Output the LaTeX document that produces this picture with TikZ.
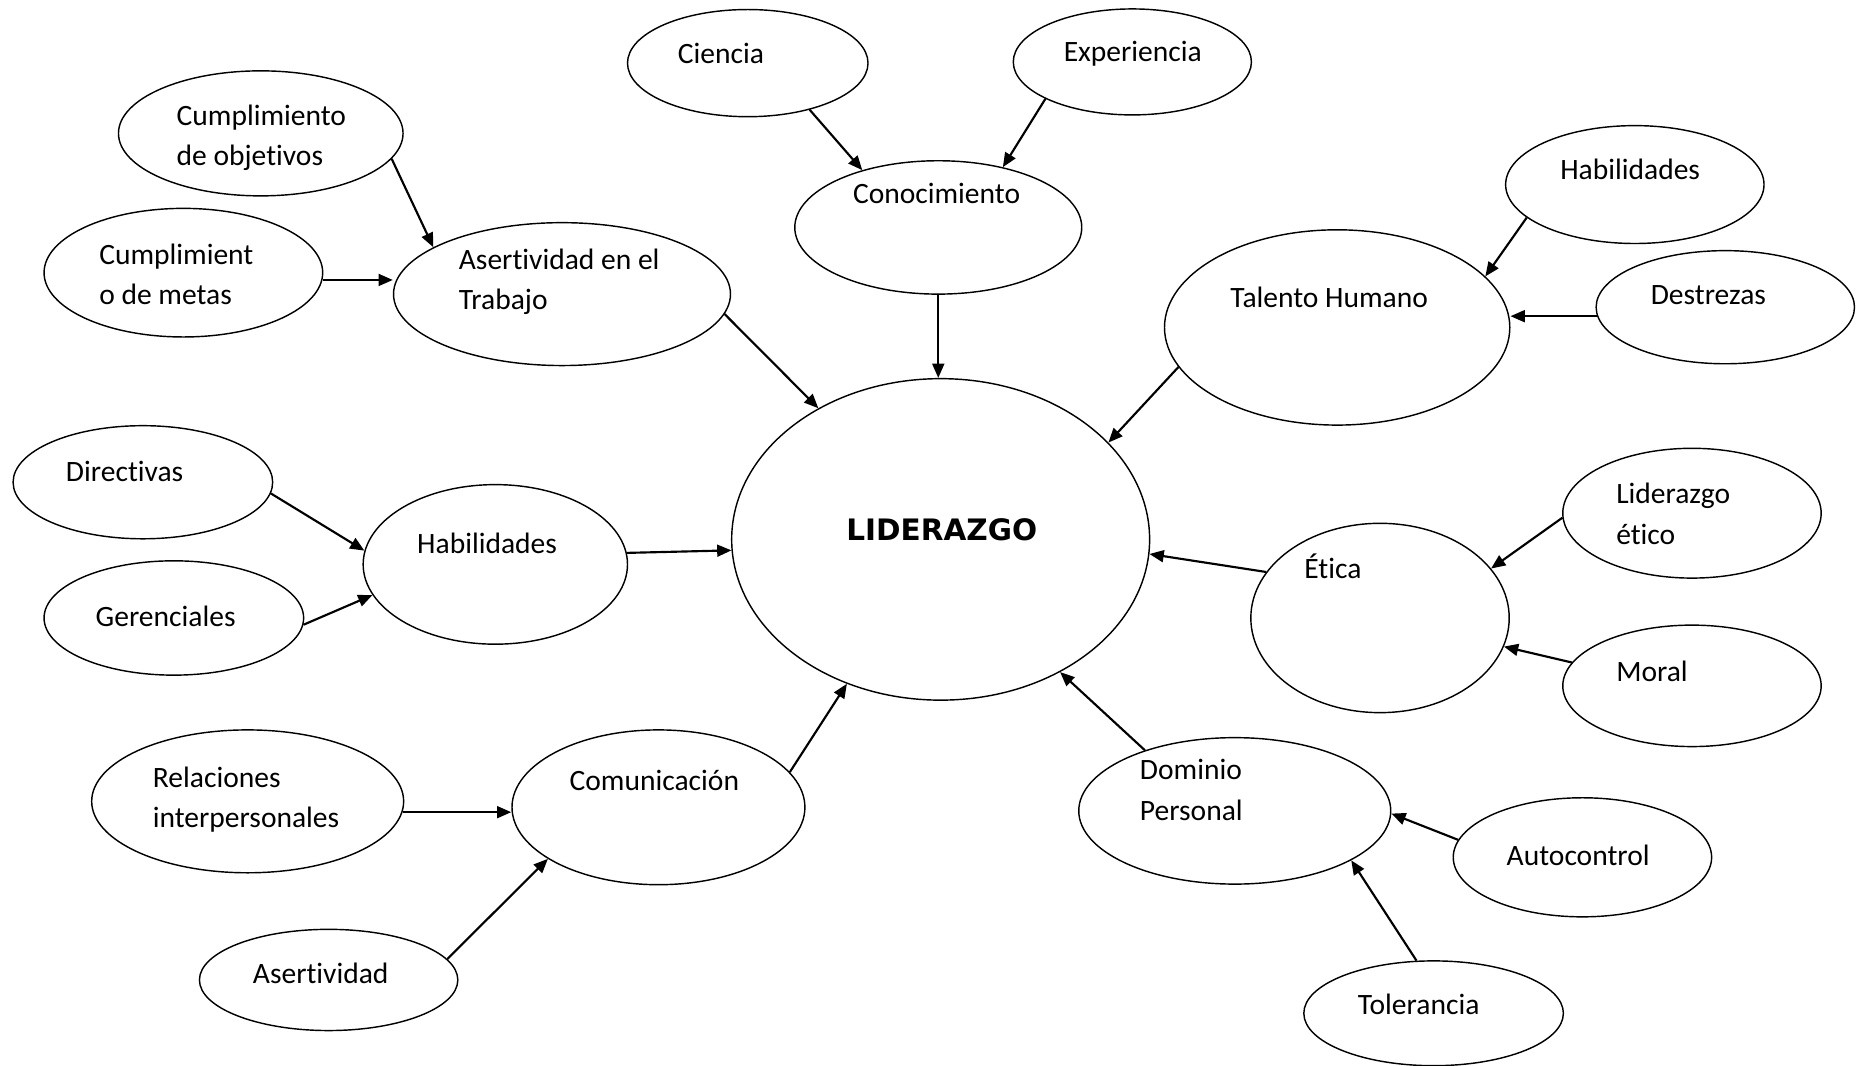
\documentclass[tikz,border=0pt]{standalone}
\usepackage{fontspec}
\setmainfont{Carlito}[Ligatures={NoCommon,NoContextual}]
\newfontfamily\heavyfont{DejaVu Sans}
\usetikzlibrary{shapes.geometric, arrows.meta}

\begin{document}
\begin{tikzpicture}[x=0.5pt, y=-0.5pt,
  bub/.style={draw, ellipse, line width=0.6pt, inner sep=0pt},
  lbl/.style={anchor=base west, inner sep=0pt, align=left, font=\fontsize{12.4}{17}\selectfont},
  arr/.style={-{Triangle[length=6pt, width=5pt]}, line width=0.9pt},
]
  \useasboundingbox (0,0) rectangle (1568,895);

  % ellipses
  \node[bub, minimum width=101pt, minimum height=45pt] (ciencia) at (628,53) {};
  \node[bub, minimum width=100pt, minimum height=44.5pt] (exper) at (951,52) {};
  \node[bub, minimum width=120.5pt, minimum height=56pt] (conoc) at (788,191) {};
  \node[bub, minimum width=119.5pt, minimum height=52.5pt] (cumpobj) at (219,112) {};
  \node[bub, minimum width=117pt, minimum height=54pt] (cumpmet) at (154,229) {};
  \node[bub, minimum width=141.5pt, minimum height=60pt] (asert) at (472,247) {};
  \node[bub, minimum width=108.5pt, minimum height=49.5pt] (habtal) at (1373,155) {};
  \node[bub, minimum width=145pt, minimum height=82pt] (talento) at (1123,275) {};
  \node[bub, minimum width=108.5pt, minimum height=47.5pt] (destr) at (1449,258) {};
  \node[bub, minimum width=175.5pt, minimum height=135pt] (lid) at (790,453) {};
  \node[bub, minimum width=109pt, minimum height=47.5pt] (direct) at (120,405) {};
  \node[bub, minimum width=111pt, minimum height=67pt] (habil) at (416,474) {};
  \node[bub, minimum width=109pt, minimum height=48pt] (geren) at (146,519) {};
  \node[bub, minimum width=108.5pt, minimum height=54.5pt] (lidet) at (1421,431) {};
  \node[bub, minimum width=108.5pt, minimum height=79.5pt] (etica) at (1159,519) {};
  \node[bub, minimum width=108.5pt, minimum height=51pt] (moral) at (1421,576) {};
  \node[bub, minimum width=131pt, minimum height=60pt] (relac) at (208,673) {};
  \node[bub, minimum width=123pt, minimum height=65pt] (comun) at (553,678) {};
  \node[bub, minimum width=108.5pt, minimum height=42.5pt] (asertv) at (276,823) {};
  \node[bub, minimum width=131pt, minimum height=61.5pt] (domin) at (1037,681) {};
  \node[bub, minimum width=108.5pt, minimum height=50pt] (autoc) at (1329,720) {};
  \node[bub, minimum width=109pt, minimum height=44pt] (toler) at (1204,851) {};

  % texts
  \node[lbl] (t-ciencia) at (569,53) {Ciencia};
  \node[lbl] (t-exper) at (893,52) {Experiencia};
  \node[lbl] (t-conoc) at (716,171) {Conocimiento};
  \node[lbl] (t-cumpobj) at (148,139) {Cumplimiento\\de objetivos};
  \node[lbl] (t-cumpmet) at (83,256) {Cumplimient\\o de metas};
  \node[lbl] (t-asert) at (385,260) {Asertividad en el\\Trabajo};
  \node[lbl] (t-habtal) at (1310,151) {Habilidades};
  \node[lbl] (t-talento) at (1033,258) {Talento Humano};
  \node[lbl] (t-destr) at (1386,256) {Destrezas};
  \node[font=\heavyfont\bfseries\fontsize{12.4}{15}\selectfont] (t-lid) at (791,445) {LIDERAZGO};
  \node[lbl] (t-direct) at (55,404) {Directivas};
  \node[lbl] (t-habil) at (350,465) {Habilidades};
  \node[lbl] (t-geren) at (80,526) {Gerenciales};
  \node[lbl] (t-lidet) at (1357,457) {Liderazgo\\ético};
  \node[lbl] (t-etica) at (1095,486) {Ética};
  \node[lbl] (t-moral) at (1357,572) {Moral};
  \node[lbl] (t-relac) at (128,695) {Relaciones\\interpersonales};
  \node[lbl] (t-comun) at (478,664) {Comunicación};
  \node[lbl] (t-asertv) at (212,826) {Asertividad};
  \node[lbl] (t-domin) at (957,689) {Dominio\\Personal};
  \node[lbl] (t-autoc) at (1265,727) {Autocontrol};
  \node[lbl] (t-toler) at (1140,852) {Tolerancia};

  % arrows
  \draw[arr] (ciencia.-37) -- (conoc.143);
  \draw[arr] (exper.203) -- (conoc.43);
  \draw[arr] (conoc.south) -- (conoc.south |- lid.north);
  \draw[arr] (cumpobj.-11) -- (asert.160);
  \draw[arr] (cumpmet.-3) -- (cumpmet.-3 -| asert.west);
  \draw[arr] (asert.-7) -- (lid.133);
  \draw[arr] (habtal.197) -- (talento.19);
  \draw[arr] (destr.184) -- (destr.184 -| talento.east);
  \draw[arr] (talento.194) -- (lid.30);
  \draw[arr] (direct.-5) -- (habil.174);
  \draw[arr] (geren.-3) -- (habil.194);
  \draw[arr] (habil.5) -- (lid.183);
  \draw[arr] (lidet.182) -- (etica.24);
  \draw[arr] (moral.169) -- (etica.-13);
  \draw[arr] (etica.158) -- (lid.-4);
  \draw[arr] (relac.-4) -- (relac.-4 -| comun.west);
  \draw[arr] (asertv.10) -- (comun.205);
  \draw[arr] (comun.15) -- (lid.237);
  \draw[arr] (domin.146) -- (lid.-48);
  \draw[arr] (autoc.172) -- (domin.-1);
  \draw[arr] (toler.108) -- (domin.-23);
\end{tikzpicture}
\end{document}
